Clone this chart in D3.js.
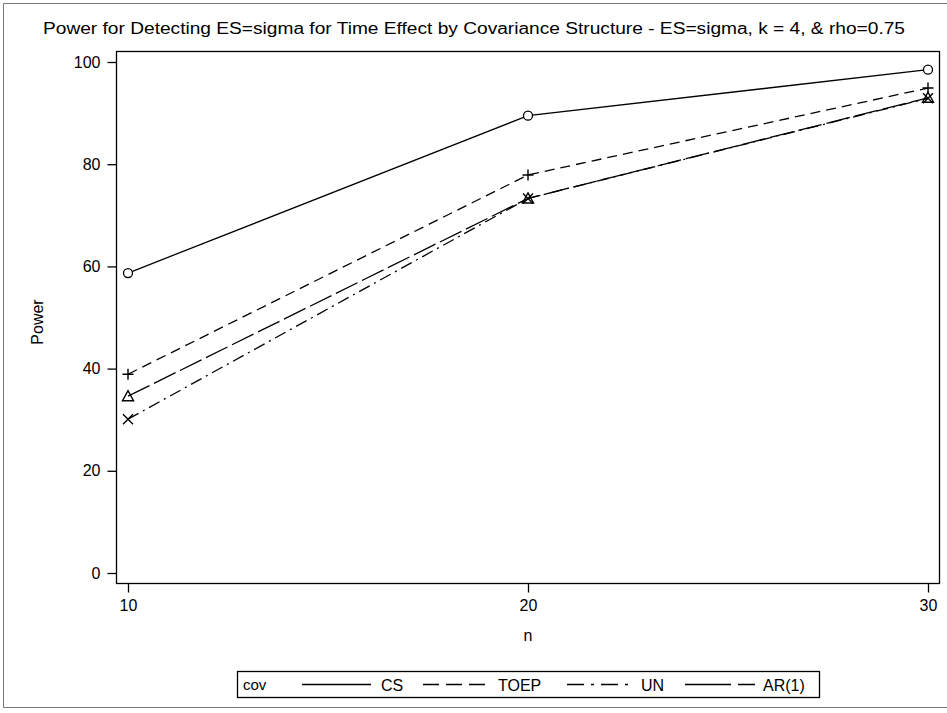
<!DOCTYPE html>
<html><head><meta charset="utf-8">
<script src="https://cdn.jsdelivr.net/npm/d3@7"></script>
<style>body{margin:0;background:#fff}svg{display:block}text{font-family:"Liberation Sans",Arial,sans-serif;fill:#000}</style>
</head><body><svg id="c" width="947" height="713"></svg>
<script>
const nValues = [10, 20, 30];
const seriesNames = ["CS", "TOEP", "UN", "AR(1)"];
const csPower = [58.7, 89.5, 98.5];
const toepPower = [38.9, 77.9, 94.9];
const unPower = [30.1, 73.3, 92.9];
const ar1Power = [34.6, 73.3, 93.0];
const yTicks = [0, 20, 40, 60, 80, 100];
const title = "Power for Detecting ES=sigma for Time Effect by Covariance Structure - ES=sigma, k = 4, & rho=0.75";

const series = [
  {name: "CS", vals: csPower, dash: null, marker: "circle"},
  {name: "TOEP", vals: toepPower, dash: "10,6", marker: "plus"},
  {name: "UN", vals: unPower, dash: "12,5,2,5", marker: "x"},
  {name: "AR(1)", vals: ar1Power, dash: "24,5", marker: "triangle"}
];

const svg = d3.select("#c");
svg.append("path").attr("d","M3.5,3.5H947 M3.5,3.5V707.5H947").attr("fill","none").attr("stroke","#777").attr("stroke-width",1);

const x = d3.scaleLinear().domain([10,30]).range([128,928]);
const y = d3.scaleLinear().domain([0,100]).range([573,62]);
const L=116.5, R=939.5, T=51.5, B=583.5;

svg.append("rect").attr("x",L).attr("y",T).attr("width",R-L).attr("height",B-T).attr("fill","none").attr("stroke","#000").attr("stroke-width",1.3);

const yAxis = d3.axisLeft(y).tickValues(yTicks).tickSize(9).tickPadding(7).tickFormat(d3.format("d"));
const gy = svg.append("g").attr("transform",`translate(${L},0)`).call(yAxis);
gy.select(".domain").remove();
gy.selectAll("line").attr("stroke","#000").attr("stroke-width",1.3);
gy.selectAll("text").style("font-size","16px").attr("font-family",null);

const xAxis = d3.axisBottom(x).tickValues(nValues).tickSize(9).tickPadding(7).tickFormat(d3.format("d"));
const gx = svg.append("g").attr("transform",`translate(0,${B})`).call(xAxis);
gx.select(".domain").remove();
gx.selectAll("line").attr("stroke","#000").attr("stroke-width",1.3);
gx.selectAll("text").style("font-size","16px").attr("font-family",null);

svg.append("text").attr("x",474).attr("y",34).attr("text-anchor","middle").style("font-size","16px")
  .attr("textLength",862).attr("lengthAdjust","spacingAndGlyphs").text(title);
svg.append("text").attr("transform","translate(43,322) rotate(-90)").attr("text-anchor","middle").style("font-size","16px").text("Power");
svg.append("text").attr("x",528).attr("y",641).attr("text-anchor","middle").style("font-size","16px").text("n");

const line = d3.line().x((d,i)=>x(nValues[i])).y(d=>y(d));
function marker(g, type, cx, cy){
  if(type==="circle") g.append("circle").attr("cx",cx).attr("cy",cy).attr("r",4.5).attr("fill","#fff").attr("stroke","#000").attr("stroke-width",1.3);
  else if(type==="plus") g.append("path").attr("d",`M${cx-5.5},${cy}H${cx+5.5}M${cx},${cy-5.5}V${cy+5.5}`).attr("stroke","#000").attr("stroke-width",1.4);
  else if(type==="x") g.append("path").attr("d",`M${cx-5},${cy-5}L${cx+5},${cy+5}M${cx-5},${cy+5}L${cx+5},${cy-5}`).attr("stroke","#000").attr("stroke-width",1.4);
  else if(type==="triangle") g.append("path").attr("d",`M${cx},${cy-5.5}L${cx+5.5},${cy+4.5}L${cx-5.5},${cy+4.5}Z`).attr("fill","none").attr("stroke","#000").attr("stroke-width",1.4);
}
series.forEach(s=>{
  const g = svg.append("g");
  g.append("path").datum(s.vals).attr("d",line).attr("fill","none").attr("stroke","#000").attr("stroke-width",1.3)
    .attr("stroke-dasharray",s.dash);
  s.vals.forEach((v,i)=>marker(g,s.marker,x(nValues[i]),y(v)));
});

const lg = svg.append("g");
lg.append("rect").attr("x",237.5).attr("y",671.5).attr("width",582).attr("height",26).attr("fill","none").attr("stroke","#000").attr("stroke-width",1.3);
lg.append("text").attr("x",243).attr("y",690).style("font-size","15px").text("cov");
const legPos = [{x1:302,x2:371,tx:381},{x1:423,x2:486,tx:498},{x1:567,x2:629,tx:641},{x1:685,x2:755,tx:763}];
series.forEach((s,i)=>{
  const p = legPos[i];
  lg.append("line").attr("x1",p.x1).attr("x2",p.x2).attr("y1",684.5).attr("y2",684.5).attr("stroke","#000").attr("stroke-width",1.3)
    .attr("stroke-dasharray", s.name==="TOEP"?"16,7": s.name==="UN"?"17,7,3,7": s.name==="AR(1)"?"46,7":null);
  lg.append("text").attr("x",p.tx).attr("y",691).style("font-size","16px").text(s.name);
});
</script></body></html>
